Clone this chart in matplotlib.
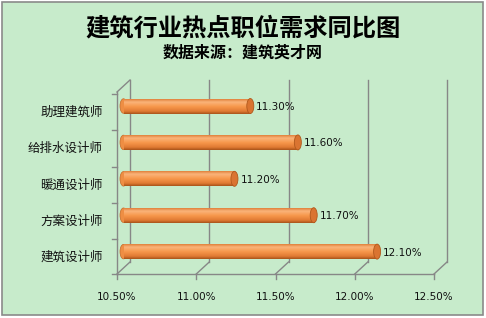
import numpy as np
import matplotlib
matplotlib.use('Agg')
import matplotlib.pyplot as plt
from matplotlib.patches import Rectangle, Ellipse
from matplotlib.colors import LinearSegmentedColormap

plt.rcParams['font.family'] = ['Noto Sans CJK SC', 'DejaVu Sans']

# 数据
categories = ['建筑设计师', '方案设计师', '暖通设计师', '给排水设计师', '助理建筑师']
values = [12.10, 11.70, 11.20, 11.60, 11.30]
xticks = [10.5, 11.0, 11.5, 12.0, 12.5]
xtick_labels = ['10.50%', '11.00%', '11.50%', '12.00%', '12.50%']
title = '建筑行业热点职位需求同比图'
subtitle = '数据来源：建筑英才网'

bg = '#C7EBCB'
grid_c = '#878787'
W, H = 486, 318

fig = plt.figure(figsize=(W / 100, H / 100), dpi=100)
fig.patch.set_facecolor('white')
fig.add_artist(Rectangle((2 / W, 3 / H), 481 / W, 313 / H, transform=fig.transFigure,
                         facecolor=bg, edgecolor='#8a8a8a', lw=1.2, zorder=0))

# 轴放在"中间深度"平面上，前后面各偏移半个深度
ax = fig.add_axes([123.5 / W, 50 / H, 317 / W, 182 / H])
ax.axis('off')
x0, x1 = xticks[0], xticks[-1]
y0, y1 = -0.45, 4.55
ax.set_xlim(x0, x1)
ax.set_ylim(y0, y1)

pxx = 317 / (x1 - x0)
pxy = 182 / (y1 - y0)
ddx = 6.5 / pxx
ddy = 6 / pxy

lk = dict(color=grid_c, lw=1, clip_on=False, zorder=1)
# 后墙网格线和地面斜线
for t in xticks:
    ax.plot([t + ddx, t + ddx], [y0 + ddy, y1 + ddy], **lk)
    ax.plot([t - ddx, t + ddx], [y0 - ddy, y0 + ddy], **lk)
    ax.plot([t - ddx, t - ddx], [y0 - ddy, y0 - ddy - 5 / pxy], **lk)
# 左墙
ax.plot([x0 - ddx, x0 - ddx], [y0 - ddy, y1 - ddy], **lk)
ax.plot([x0 - ddx, x0 + ddx], [y1 - ddy, y1 + ddy], **lk)
ax.plot([x0 - ddx, x1 - ddx], [y0 - ddy, y0 - ddy], **lk)
for b in np.arange(len(categories) + 1) - 0.5:
    yb = min(max(b, y0), y1) - ddy
    ax.plot([x0 - ddx, x0 - ddx - 5 / pxx], [yb, yb], **lk)

# 圆柱条
cmap = LinearSegmentedColormap.from_list('cyl', [
    (0.0, '#E0813C'), (0.2, '#FAB47A'), (0.5, '#F7984C'),
    (0.82, '#E07A33'), (1.0, '#A8531A')])
grad = np.linspace(0, 1, 64).reshape(-1, 1)
h = 15 / pxy
cap_w = 7 / pxx
for i, v in enumerate(values):
    ax.add_patch(Ellipse((x0, i), cap_w, h * 0.97, facecolor='#EE8E44', edgecolor='#C56A28',
                         lw=0.5, zorder=2, clip_on=False))
    ax.imshow(grad, cmap=cmap, extent=(x0, v, i - h / 2, i + h / 2), aspect='auto',
              zorder=3, interpolation='bilinear')
    ax.add_patch(Ellipse((v, i), cap_w, h, facecolor='#DA7431', edgecolor='#B0581C',
                         lw=0.6, zorder=4, clip_on=False))
    ax.text(v + 6 / pxx, i - 1 / pxy, f'{v:.2f}%', fontsize=7.5, va='center', ha='left',
            color='#111111', family='DejaVu Sans', zorder=5)
    ax.text(x0 - ddx - 14 / pxx, i - ddy, categories[i], fontsize=9, va='center',
            ha='right', color='#111111')

ax.set_xlim(x0, x1)
ax.set_ylim(y0, y1)

for t, lab in zip(xticks, xtick_labels):
    ax.text(t - ddx, y0 - ddy - 23 / pxy, lab, fontsize=7.5, ha='center', va='center',
            color='#111111', family='DejaVu Sans')

fig.text(0.5, 1 - 29 / H, title, fontsize=17.5, fontweight='bold', ha='center', va='center')
fig.text(0.5, 1 - 53 / H, subtitle, fontsize=11.5, fontweight='bold', ha='center', va='center')

fig.savefig('out.png', dpi=100, facecolor=fig.get_facecolor())
